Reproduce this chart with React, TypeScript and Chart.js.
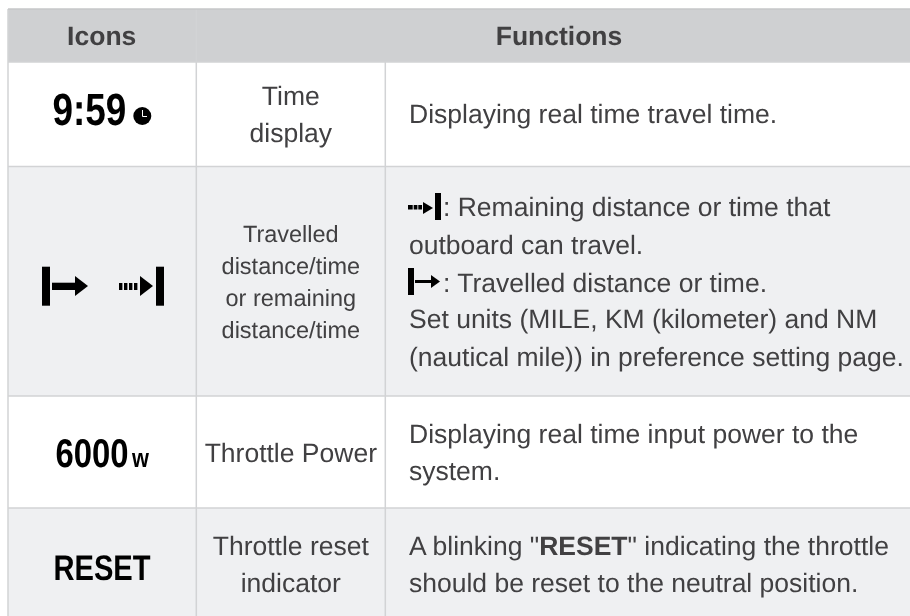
import React, { useEffect, useRef } from "react";
import { Chart, registerables } from "chart.js";

Chart.register(...registerables);

// ---- table content ----
const headerLabels = ["Icons", "Functions"];
const timeName = ["Time", "display"];
const timeDesc = ["Displaying real time travel time."];
const travelName = ["Travelled", "distance/time", "or remaining", "distance/time"];
const travelDesc = [
  ": Remaining distance or time that",
  "outboard can travel.",
  ": Travelled distance or time.",
  "Set units (MILE, KM (kilometer) and NM",
  "(nautical mile)) in preference setting page.",
];
const powerName = ["Throttle Power"];
const powerDesc = ["Displaying real time input power to the", "system."];
const resetName = ["Throttle reset", "indicator"];
const resetDescTop = ['A blinking "', "RESET", '" indicating the throttle'];
const resetDescBottom = ["should be reset to the neutral position."];
const iconTime = "9:59";
const iconPower = "6000";
const iconPowerUnit = "w";
const iconReset = "RESET";

// ---- table layout, in axis units ----
const rowEdges = [9, 62, 166.5, 396, 508, 616];
const rowFills = ["#cfd0d2", "#ffffff", "#eff0f2", "#ffffff", "#eff0f2"];
const colEdges = [8, 196.3, 385.3, 910];

const INK = "#414042";
const SANS = '"Liberation Sans", Arial, sans-serif';

function makeDatasets() {
  const ds: any[] = [];
  rowFills.forEach((color, i) => {
    ds.push({
      order: 2,
      data: [
        { x: colEdges[0], y: rowEdges[i] },
        { x: colEdges[3], y: rowEdges[i] },
      ],
      borderWidth: 0,
      borderColor: "transparent",
      backgroundColor: color,
      fill: { value: rowEdges[i + 1] },
      pointRadius: 0,
    });
  });
  const line = (x0: number, y0: number, x1: number, y1: number, color = "#d2d3d5", w = 1.5) =>
    ds.push({
      order: 1,
      data: [
        { x: x0, y: y0 },
        { x: x1, y: y1 },
      ],
      borderWidth: w,
      borderColor: color,
      fill: false,
      pointRadius: 0,
    });
  line(colEdges[0], rowEdges[0], colEdges[3], rowEdges[0], "#c6c7c9");
  rowEdges.slice(1, 5).forEach((y) => line(colEdges[0], y, colEdges[3], y));
  line(colEdges[0], rowEdges[0], colEdges[0], rowEdges[5]);
  line(colEdges[1], rowEdges[0], colEdges[1], rowEdges[5]);
  line(colEdges[2], rowEdges[1], colEdges[2], rowEdges[5]);
  return ds;
}

const tablePlugin = {
  id: "tableText",
  afterDatasetsDraw(chart: any) {
    const { ctx } = chart;
    const X = (v: number) => chart.scales.x.getPixelForValue(v);
    const Y = (v: number) => chart.scales.y.getPixelForValue(v);
    const text = (s: string, x: number, y: number, font: string, align: CanvasTextAlign = "left", color = INK) => {
      ctx.font = font;
      ctx.fillStyle = color;
      ctx.textAlign = align;
      ctx.textBaseline = "alphabetic";
      ctx.fillText(s, X(x), Y(y));
    };
    const narrow = (s: string, x: number, y: number, size: number) => {
      ctx.save();
      ctx.translate(X(x), Y(y));
      ctx.scale(0.82, 1);
      ctx.font = `bold ${size}px ${SANS}`;
      ctx.fillStyle = "#000000";
      ctx.textAlign = "left";
      ctx.textBaseline = "alphabetic";
      ctx.fillText(s, 0, 0);
      ctx.restore();
    };
    const rect = (x0: number, y0: number, x1: number, y1: number) => {
      ctx.fillStyle = "#000000";
      ctx.fillRect(X(x0), Y(y0), X(x1) - X(x0), Y(y1) - Y(y0));
    };
    const tri = (x0: number, x1: number, y0: number, y1: number) => {
      ctx.fillStyle = "#000000";
      ctx.beginPath();
      ctx.moveTo(X(x0), Y(y0));
      ctx.lineTo(X(x1), Y((y0 + y1) / 2));
      ctx.lineTo(X(x0), Y(y1));
      ctx.closePath();
      ctx.fill();
    };

    ctx.save();
    ctx.textRendering = "geometricPrecision";
    const body = `26.5px ${SANS}`;
    const small = `23.5px ${SANS}`;
    const bold = `bold 26.5px ${SANS}`;

    // header
    text(headerLabels[0], 101.7, 45, bold, "center");
    text(headerLabels[1], 559, 45, bold, "center");

    // name column
    const cx = 290.8;
    [105, 142].forEach((y, i) => text(timeName[i], cx, y, body, "center"));
    [242, 274, 306, 338].forEach((y, i) => text(travelName[i], cx, y, small, "center"));
    text(powerName[0], cx, 462, body, "center");
    [555, 592].forEach((y, i) => text(resetName[i], cx, y, body, "center"));

    // description column
    const dx = 409;
    text(timeDesc[0], dx, 123, body);
    text(travelDesc[0], 443, 216, body);
    text(travelDesc[1], dx, 254, body);
    text(travelDesc[2], 443, 291.5, body);
    text(travelDesc[3], dx, 328, body);
    text(travelDesc[4], dx, 366, body);
    text(powerDesc[0], dx, 443, body);
    text(powerDesc[1], dx, 480, body);
    let px = dx;
    resetDescTop.forEach((s, i) => {
      const f = i === 1 ? bold : body;
      text(s, px, 555, f);
      ctx.font = f;
      px += ctx.measureText(s).width;
    });
    text(resetDescBottom[0], dx, 592, body);

    // icon column
    narrow(iconTime, 52.5, 125, 45);
    ctx.fillStyle = "#000000";
    ctx.beginPath();
    ctx.arc(X(142.3), Y(116), 9, 0, Math.PI * 2);
    ctx.fill();
    ctx.strokeStyle = "#ffffff";
    ctx.lineWidth = 1;
    ctx.beginPath();
    ctx.moveTo(X(142.5), Y(110));
    ctx.lineTo(X(142.5), Y(116.5));
    ctx.lineTo(X(147), Y(116.5));
    ctx.stroke();

    narrow(iconPower, 55.5, 467, 40);
    narrow(iconPowerUnit, 132, 467, 26.5);
    narrow(iconReset, 53.5, 580, 35.5);

    // large arrows
    rect(42, 266.7, 50, 305.7);
    rect(52, 282.7, 75, 290);
    tri(75, 88, 276, 296);
    [119, 124, 129, 134].forEach((x) => rect(x, 283, x + 3.4, 290));
    tri(140, 153, 276, 296);
    rect(156, 266.7, 164, 305.7);

    // inline arrows
    [408, 413.7, 418.3].forEach((x, i) => rect(x, 205, x + (i === 0 ? 4.7 : 3.7), 209.5));
    tri(423, 433, 202, 214);
    rect(435, 193, 441, 220);
    rect(408, 268, 414, 295);
    rect(415, 280, 431, 283);
    tri(431, 440, 275, 288);
    ctx.restore();
  },
};

export default function App() {
  const ref = useRef<HTMLCanvasElement>(null);
  useEffect(() => {
    const chart = new Chart(ref.current!, {
      type: "line",
      data: { datasets: makeDatasets() },
      plugins: [tablePlugin],
      options: {
        animation: false,
        responsive: false,
        maintainAspectRatio: false,
        layout: { padding: 0 },
        events: [],
        plugins: { legend: { display: false }, tooltip: { enabled: false }, title: { display: false } },
        scales: {
          x: { type: "linear", min: 0, max: 910, display: false },
          y: { type: "linear", min: 0, max: 616, reverse: true, display: false },
        },
      },
    } as any);
    return () => chart.destroy();
  }, []);
  return (
    <canvas
      ref={ref}
      width={910}
      height={616}
      style={{ position: "fixed", left: 0, top: 0, width: 910, height: 616, display: "block" }}
    />
  );
}
